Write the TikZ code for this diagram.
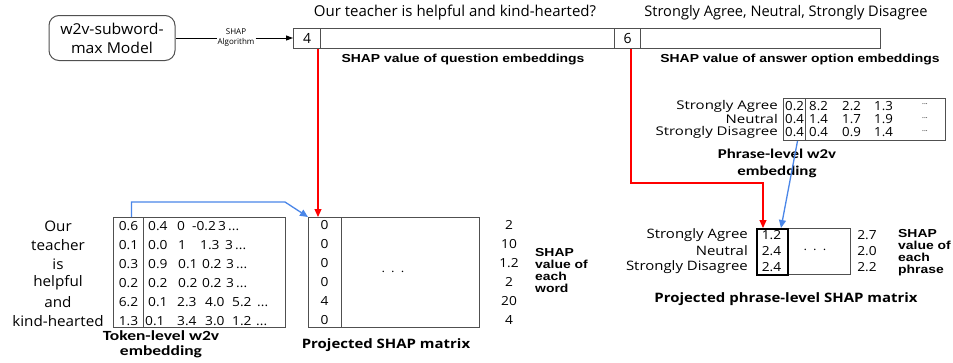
\documentclass[tikz,border=0pt]{standalone}
\usepackage{fontspec}
\setmainfont{Open Sans}
\newfontfamily\osA{Open Sans}[FakeStretch=1.05]
\newfontfamily\osB{Open Sans}[FakeStretch=1.1]
\newfontfamily\osE{Open Sans}[FakeStretch=1.25]
\newfontfamily\osD{Open Sans}[FakeStretch=1.15]
\newfontfamily\lbS{Liberation Sans}[FakeStretch=1.2]
\newfontfamily\caS{Carlito}[FakeStretch=1.25]
\usetikzlibrary{arrows.meta,calc}
\definecolor{edge}{RGB}{80,80,80}
\definecolor{arrblue}{RGB}{74,134,232}
\definecolor{arrred}{RGB}{255,0,0}
\newcommand\fs[2]{\fontsize{#1}{#2}\selectfont}
\begin{document}
\begin{tikzpicture}[x=1pt,y=-1pt,
  cell/.style={draw=edge, line width=1pt, inner sep=0pt, anchor=north west},
  tx/.style={inner sep=0pt},
  redarr/.style={color=arrred, line width=1.1pt, -{Triangle[length=8pt,width=7pt]}},
  bluearr/.style={color=arrblue, line width=1.3pt, -{Triangle[length=8pt,width=7pt]}},
  boldlbl/.style={tx, font={\lbS\bfseries\fs{11.6}{12}}, align=left},
  projlbl/.style={tx, font={\osD\bfseries\fs{13}{15}}},
  embl/.style={tx, font={\caS\bfseries\fs{14}{15}}, align=center},
  tnum/.style={tx, font={\osB\fs{12.5}{14}}},
  tword/.style={tx, font={\osA\fs{14.5}{16}}},
  phword/.style={tx, font={\osE\fs{12}{13}}, anchor=east},
  phnum/.style={tx, font={\osA\fs{12.6}{13}}},
  phdot/.style={tx, font={\fs{7}{8}}},
  ppword/.style={tx, font={\osD\fs{13}{14}}, anchor=east},
  ppnum/.style={tx, font={\osB\fs{12.5}{14}}}
]
\fill[white] (0,0) rectangle (953,362);
\useasboundingbox (0,0) rectangle (953,362);

% model and SHAP algorithm arrow
\node[draw=edge, line width=1pt, rounded corners=10pt, minimum width=126pt, minimum height=45pt,
      align=center, inner sep=0pt, font={\osA\fs{15}{19}}] (model) at (112,38) {w2v-subword-\\max Model};

% top bar
\node[cell, minimum width=27pt, minimum height=20pt, font=\fs{14}{16}] (b4) at (293,28) {4};
\node[cell, minimum width=294pt, minimum height=20pt] (bq) at (320,28) {};
\node[cell, minimum width=26pt, minimum height=20pt, font=\fs{14}{16}] (b6) at (614,28) {6};
\node[cell, minimum width=240pt, minimum height=20pt] (ba) at (640,28) {};

\node[tx, font=\fs{8}{10}, align=center] (alg) at (236,38) {SHAP\\Algorithm};
\draw[black, line width=1pt] (model.east) -- (model.east -| alg.west);
\draw[black, line width=1pt, -{Triangle[length=7pt,width=5pt]}] ([xshift=1pt]alg.east) -- (alg.east -| b4.west);

\node[tx, font=\fs{15}{17}] (qtext) at (455,13) {Our teacher is helpful and kind-hearted?};
\node[tx, font=\fs{14.6}{17}] (atext) at (786,13) {Strongly Agree, Neutral, Strongly Disagree};
\node[boldlbl] (qlbl) at (463,60) {SHAP value of question embeddings};
\node[boldlbl] (albl) at (800,60) {SHAP value of answer option embeddings};

% token-level matrix
\node[cell, minimum width=172pt, minimum height=110pt] (tbox) at (113,217) {};
\node[cell, minimum width=30pt, minimum height=110pt] (tcol) at (113,217) {};
\foreach \w [count=\i] in {Our,teacher,is,helpful,and,kind-hearted}
  \node[tword] (tw\i) at (58,{207+19*\i}) {\w};
\foreach \v [count=\i] in {0.6,0.1,0.3,0.2,6.2,1.3}
  \node[tnum] (tv\i) at (128.5,{207+19*\i}) {\v};
\node[tnum, anchor=west] (tr1) at (148,226) {\makebox[29pt][l]{0.4}\makebox[15pt][l]{0}\makebox[26pt][l]{-0.2}\makebox[10pt][l]{3}...};
\node[tnum, anchor=west] (tr2) at (148,245) {\makebox[30pt][l]{0.0}\makebox[22pt][l]{1}\makebox[25pt][l]{1.3}\makebox[10pt][l]{3}...};
\node[tnum, anchor=west] (tr3) at (148,264) {\makebox[30pt][l]{0.9}\makebox[24pt][l]{0.1}\makebox[24pt][l]{0.2}\makebox[10pt][l]{3}...};
\node[tnum, anchor=west] (tr4) at (148,283) {\makebox[30pt][l]{0.2}\makebox[24pt][l]{0.2}\makebox[24pt][l]{0.2}\makebox[10pt][l]{3}...};
\node[tnum, anchor=west] (tr5) at (148,302) {\makebox[29pt][l]{0.1}\makebox[28pt][l]{2.3}\makebox[27pt][l]{4.0}\makebox[25pt][l]{5.2}...};
\node[tnum, anchor=west] (tr6) at (145,321) {\makebox[32pt][l]{0.1}\makebox[28pt][l]{3.4}\makebox[27pt][l]{3.0}\makebox[24pt][l]{1.2}...};
\node[embl] (tlbl) at (161,344) {Token-level w2v\\embedding};

% projected SHAP matrix
\node[cell, minimum width=171pt, minimum height=110pt] (pbox) at (308,217) {};
\node[cell, minimum width=33pt, minimum height=110pt] (pcol) at (308,217) {};
\foreach \v [count=\i] in {0,0,0,0,4,0}
  \node[tnum] (pv\i) at (324.5,{206+19*\i}) {\v};
\node[tx, font=\fs{14}{14}] (pdots) at (393,272) {$\cdot\hspace{2.5pt}\cdot\hspace{2.5pt}\cdot$};
\foreach \v [count=\i] in {2,10,1.2,2,20,4}
  \node[tnum] (ps\i) at (509,{206+19*\i}) {\v};
\node[boldlbl, anchor=west] (plbl) at (535,271) {SHAP\\value of\\each\\word};
\node[projlbl] (ptitle) at (386,345) {Projected SHAP matrix};

% phrase-level matrix
\node[cell, minimum width=162pt, minimum height=42pt] (phbox) at (783,98) {};
\node[cell, minimum width=22pt, minimum height=42pt] (phcol) at (783,98) {};
\foreach \w/\y [count=\i] in {Strongly Agree/106,Neutral/119,Strongly Disagree/132}
  \node[phword] (phw\i) at (778,\y) {\w};
\foreach \a/\b/\c/\d/\y [count=\i] in {0.2/8.2/2.2/1.3/106,0.4/1.4/1.7/1.9/119,0.4/0.4/0.9/1.4/132}
  \node[phnum, anchor=west] (phr\i) at (785,\y) {\makebox[24pt][l]{\a}\makebox[33pt][l]{\b}\makebox[32pt][l]{\c}\makebox[37pt][l]{\d}};
\foreach \y [count=\i] in {104,118,131}
  \node[phdot] (phd\i) at (925,\y) {...};
\node[embl, font={\caS\bfseries\fs{13.5}{17}}] (phlbl) at (777,163) {Phrase-level w2v\\embedding};

% projected phrase-level matrix
\node[cell, minimum width=94pt, minimum height=46pt] (ppbox) at (756,228) {};
\node[cell, draw=black, line width=1.8pt, minimum width=31pt, minimum height=46pt] (ppcol) at (756,228) {};
\foreach \w/\y [count=\i] in {Strongly Agree/235,Neutral/251,Strongly Disagree/267}
  \node[ppword] (ppw\i) at (748,\y) {\w};
\foreach \v/\y [count=\i] in {1.2/235,2.4/251,2.4/267}
  \node[ppnum] (ppv\i) at (771.5,\y) {\v};
\node[tx, font=\fs{14}{14}] (ppdots) at (815,250) {$\cdot\hspace{2.5pt}\cdot\hspace{2.5pt}\cdot$};
\foreach \v/\y [count=\i] in {2.7/235,2.0/251,2.2/267}
  \node[ppnum] (pps\i) at (867,\y) {\v};
\node[boldlbl, anchor=west] (pplbl) at (898,253) {SHAP\\value of\\each\\phrase};
\node[projlbl] (pptitle) at (786,299) {Projected phrase-level SHAP matrix};

% connectors
\draw[redarr] ([xshift=-3pt]b4.south east) -- ([xshift=-3pt]b4.south east |- pcol.north);
\draw[redarr] ([xshift=-10pt]b6.south east) |- ([xshift=7pt,yshift=45pt]ppcol.north west) -- ([xshift=7pt]ppcol.north west);
\draw[bluearr] ([xshift=3pt]tcol.north) |- ([xshift=-23pt,yshift=15pt]pcol.north west) -- (pcol.north west);
\draw[bluearr] ([xshift=3pt]phcol.south) -- ([xshift=25pt]ppcol.north west);
\end{tikzpicture}
\end{document}
